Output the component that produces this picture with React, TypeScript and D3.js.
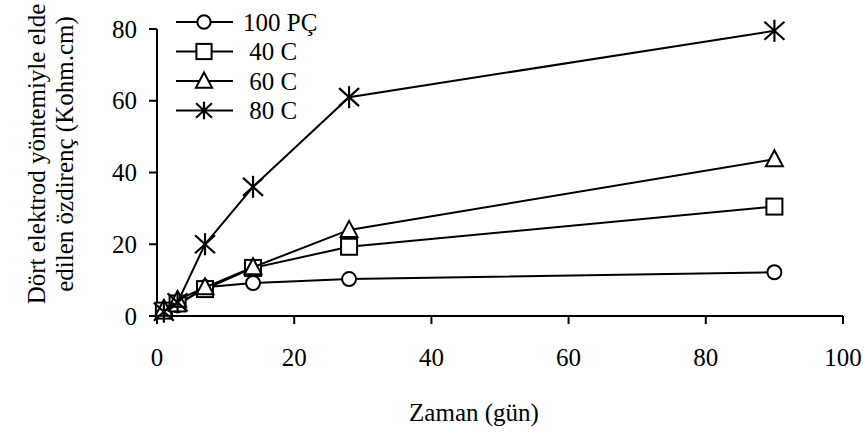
import React from "react";
import * as d3 from "d3";

const days = [1, 3, 7, 14, 28, 90];
const pc100 = [1.5, 3, 8, 9.2, 10.3, 12.2];
const c40 = [1.5, 3.5, 7.5, 13.4, 19.3, 30.5];
const c60 = [2, 4.5, 8, 13.6, 24, 43.7];
const c80 = [1.2, 3.8, 20, 36, 61, 79.5];
const seriesNames = ["100 PÇ", " 40 C", " 60 C", " 80 C"];
const markerTypes = ["circle", "square", "triangle", "asterisk"];
const xTicks = [0, 20, 40, 60, 80, 100];
const yTicks = [0, 20, 40, 60, 80];

const W = 867;
const H = 433;
const FAMILY = "'Times New Roman', 'Liberation Serif', serif";
const TXT: React.CSSProperties = { fontFamily: FAMILY, fontSize: "25px", whiteSpace: "pre" };

function Marker({ type, x, y, k = 1 }: { type: string; x: number; y: number; k?: number }) {
  const sw = 2;
  if (type === "circle")
    return <circle cx={x} cy={y} r={7 * k} fill="#fff" stroke="#000" strokeWidth={sw} />;
  if (type === "square")
    return (
      <rect x={x - 8 * k} y={y - 8 * k} width={16 * k} height={16 * k} fill="#fff" stroke="#000" strokeWidth={sw} />
    );
  if (type === "triangle")
    return (
      <path
        d={`M${x},${y - 9 * k} L${x + 8.5 * k},${y + 7 * k} L${x - 8.5 * k},${y + 7 * k} Z`}
        fill="#fff"
        stroke="#000"
        strokeWidth={sw}
        strokeLinejoin="miter"
      />
    );
  return (
    <g stroke="#000" strokeWidth={2.2}>
      <line x1={x} y1={y - 11 * k} x2={x} y2={y + 11 * k} />
      <line x1={x - 10 * k} y1={y - 9 * k} x2={x + 10 * k} y2={y + 9 * k} />
      <line x1={x - 10 * k} y1={y + 9 * k} x2={x + 10 * k} y2={y - 9 * k} />
    </g>
  );
}

export default function App() {
  const x = d3.scaleLinear().domain([0, 100]).range([157, 843]);
  const y = d3.scaleLinear().domain([0, 80]).range([316, 29]);
  const allSeries = [pc100, c40, c60, c80];
  const line = d3
    .line<number>()
    .x((_, i) => x(days[i]))
    .y((v) => y(v));

  return (
    <svg width={W} height={H} style={{ position: "absolute", left: 0, top: 0, background: "#fff" }}>
      <rect width={W} height={H} fill="#fff" />
      <g stroke="#000" strokeWidth={2}>
        <line x1={x(0)} y1={y(0)} x2={x(0)} y2={y(80)} />
        <line x1={x(0)} y1={y(0)} x2={x(100)} y2={y(0)} />
        {yTicks.map((t) => (
          <line key={"yt" + t} x1={x(0) - 8} x2={x(0)} y1={y(t)} y2={y(t)} />
        ))}
        {xTicks.map((t) => (
          <line key={"xt" + t} x1={x(t)} x2={x(t)} y1={y(0)} y2={y(0) + 8} />
        ))}
      </g>
      {yTicks.map((t) => (
        <text key={"yl" + t} x={137} y={y(t) + 8.5} textAnchor="end" style={TXT}>
          {t}
        </text>
      ))}
      {xTicks.map((t) => (
        <text key={"xl" + t} x={x(t)} y={366} textAnchor="middle" style={TXT}>
          {t}
        </text>
      ))}
      <text x={474} y={421} textAnchor="middle" style={TXT}>
        Zaman (gün)
      </text>
      <g transform="translate(45,154) rotate(-90)">
        <text x={0} y={0} textAnchor="middle" style={TXT}>
          Dört elektrod yöntemiyle elde
        </text>
        <text x={0} y={28} textAnchor="middle" style={TXT}>
          edilen özdirenç (Kohm.cm)
        </text>
      </g>
      {allSeries.map((s, si) => (
        <g key={"s" + si}>
          <path d={line(s) || ""} fill="none" stroke="#000" strokeWidth={2} />
          {s.map((v, i) => (
            <Marker key={i} type={markerTypes[si]} x={x(days[i])} y={y(v)} />
          ))}
        </g>
      ))}
      {seriesNames.map((n, i) => {
        const ly = 22 + i * 29.5;
        return (
          <g key={"lg" + i}>
            <line x1={176} x2={233} y1={ly} y2={ly} stroke="#000" strokeWidth={2} />
            <Marker type={markerTypes[i]} x={204} y={ly} k={markerTypes[i] === "asterisk" ? 0.8 : 0.95} />
            <text x={243} y={ly + 8.5} style={TXT}>
              {n}
            </text>
          </g>
        );
      })}
    </svg>
  );
}
